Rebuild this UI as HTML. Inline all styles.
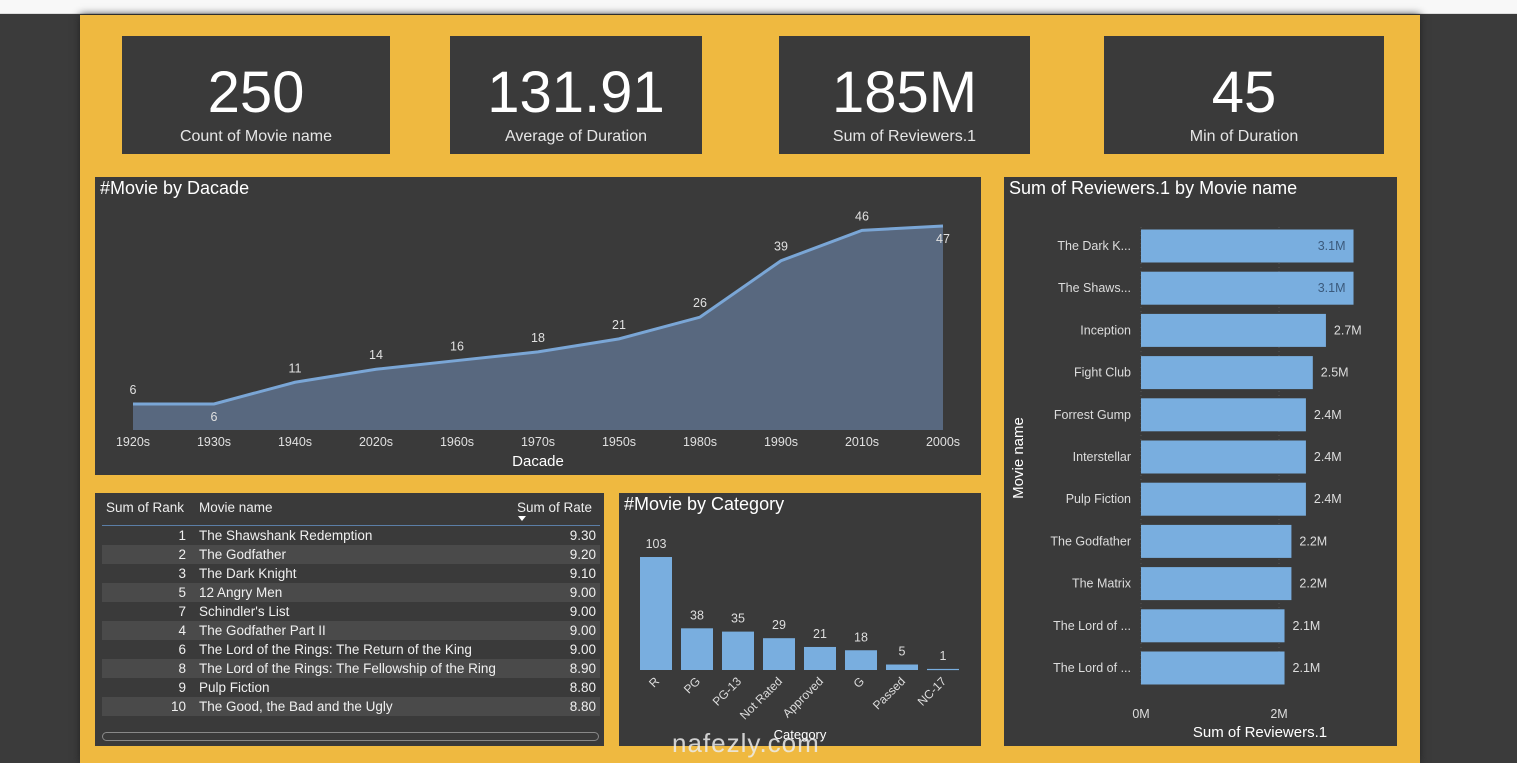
<!DOCTYPE html>
<html><head><meta charset="utf-8">
<style>
*{margin:0;padding:0;box-sizing:border-box}
body{width:1517px;height:763px;overflow:hidden;background:#3b3b3b;font-family:"Liberation Sans","Noto Sans CJK SC",sans-serif;position:relative}
.abs{position:absolute}
.card{position:absolute;background:#3a3a3a;color:#fff;text-align:center}
.card .v{font-size:58px;line-height:58px;margin-top:28px}
.card .l{font-size:16px;color:#e6e6e6;margin-top:6px}
.panel{position:absolute;background:#3a3a3a}
.title{position:absolute;left:5px;top:1px;color:#fff;font-size:18px}
svg text{font-family:"Liberation Sans",sans-serif}
.row{position:absolute;left:7px;width:498px;height:19px;font-size:13.5px;color:#f0f0f0;line-height:19px}
.row.alt{background:#4a4a4a}
</style></head><body>
<div class="abs" style="left:0;top:0;width:1517px;height:14px;background:#f8f8f8;border-bottom:1px solid #ddd"></div>
<div class="abs" style="left:80px;top:15px;width:1340px;height:748px;background:#efb940;box-shadow:0 0 8px #222"></div>

<div class="card" style="left:122px;top:36px;width:268px;height:118px"><div class="v">250</div><div class="l">Count of Movie name</div></div>
<div class="card" style="left:450px;top:36px;width:252px;height:118px"><div class="v">131.91</div><div class="l">Average of Duration</div></div>
<div class="card" style="left:779px;top:36px;width:251px;height:118px"><div class="v">185M</div><div class="l">Sum of Reviewers.1</div></div>
<div class="card" style="left:1104px;top:36px;width:280px;height:118px"><div class="v">45</div><div class="l">Min of Duration</div></div>

<div class="panel" style="left:95px;top:177px;width:886px;height:298px">
<div class="title">#Movie by Dacade</div>
<svg id="area" width="886" height="298" style="position:absolute;left:0;top:0"></svg>
</div>

<div class="panel" style="left:1004px;top:177px;width:393px;height:569px">
<div class="title">Sum of Reviewers.1 by Movie name</div>
<svg id="hbar" width="393" height="569" style="position:absolute;left:0;top:0"></svg>
</div>

<div class="panel" style="left:95px;top:493px;width:509px;height:253px">
<div class="abs" style="left:11px;top:7px;font-size:13.5px;color:#eee">Sum of Rank</div>
<div class="abs" style="left:104px;top:7px;font-size:13.5px;color:#eee">Movie name</div>
<div class="abs" style="left:422px;top:7px;font-size:13.5px;color:#eee">Sum of Rate</div>
<div class="abs" style="left:423px;top:23px;width:0;height:0;border-left:4px solid transparent;border-right:4px solid transparent;border-top:5px solid #fff"></div>
<div class="abs" style="left:7px;top:32px;width:498px;height:1px;background:#5b7ea6"></div>
<div id="rows"></div>
<div class="abs" style="left:7px;top:239px;width:497px;height:9px;border:1px solid #888;border-radius:5px"></div>
</div>

<div class="panel" style="left:619px;top:493px;width:362px;height:253px">
<div class="title">#Movie by Category</div>
<svg id="cat" width="362" height="253" style="position:absolute;left:0;top:0"></svg>
</div>

<div class="abs" style="left:672px;top:728px;font-size:26px;color:rgba(235,235,235,0.85);letter-spacing:1px">nafezly.com</div>

<script>
const NS="http://www.w3.org/2000/svg";
function mk(svg,tag,attrs,text){const e=document.createElementNS(NS,tag);for(const k in attrs)e.setAttribute(k,attrs[k]);if(text!==undefined)e.textContent=text;svg.appendChild(e);return e;}

// Area chart data
const decades=["1920s","1930s","1940s","2020s","1960s","1970s","1950s","1980s","1990s","2010s","2000s"];
const decadeCounts=[6,6,11,14,16,18,21,26,39,46,47];
(function(){
 const svg=document.getElementById('area');
 const x=i=>38+i*81, y=v=>253-v*4.34;
 let d="M"+x(0)+","+y(decadeCounts[0]);
 decadeCounts.forEach((v,i)=>{if(i)d+=" L"+x(i)+","+y(v);});
 const area=mk(svg,'path',{d:d+" L"+x(decadeCounts.length-1)+",253 L"+x(0)+",253 Z",fill:"#58687f"});
 
 
 const line=mk(svg,'path',{d:d,fill:"none",stroke:"#7aa6d6","stroke-width":3});
 
 
 decades.forEach((c,i)=>{
  const t=mk(svg,'text',{x:x(i),y:269,fill:"#e0e0e0","font-size":12.5,"text-anchor":"middle"},c);
  
  
  const v=decadeCounts[i];
  const below=(i===1||i===decadeCounts.length-1);
  const lb=mk(svg,'text',{x:x(i),y:below?y(v)+17:y(v)-10,fill:"#e0e0e0","font-size":12.5,"text-anchor":"middle"},v);
  
  
 });
 const xt=mk(svg,'text',{x:443,y:289,fill:"#fff","font-size":15,"text-anchor":"middle"},"Dacade");
 
 
})();

// Horizontal bar chart data
const movies=["The Dark K...","The Shaws...","Inception","Fight Club","Forrest Gump","Interstellar","Pulp Fiction","The Godfather","The Matrix","The Lord of ...","The Lord of ..."];
const reviewers=[3.08,3.08,2.68,2.49,2.39,2.39,2.39,2.18,2.18,2.08,2.08];
const reviewerLabels=["3.1M","3.1M","2.7M","2.5M","2.4M","2.4M","2.4M","2.2M","2.2M","2.1M","2.1M"];
const xTicks=[0,2];
(function(){
 const svg=document.getElementById('hbar');
 const x=v=>137+v*69, yc=i=>69+i*42.2;
 xTicks.forEach(t=>{
  mk(svg,'line',{x1:x(t),x2:x(t),y1:50,y2:510,stroke:"#555","stroke-dasharray":"1,3"});
  const tt=mk(svg,'text',{x:x(t),y:541,fill:"#ddd","font-size":12.5,"text-anchor":"middle"},t+"M");
  
  
 });
 movies.forEach((m,i)=>{
  const r=mk(svg,'rect',{x:x(0),y:yc(i)-16.5,width:x(reviewers[i])-x(0),height:33,fill:"#79aedf"});
  
  
  const l=mk(svg,'text',{x:127,y:yc(i)+4,fill:"#ddd","font-size":12.5,"text-anchor":"end"},m);
  
  
  const inside=reviewers[i]>=3;
  const v=mk(svg,'text',{x:inside?x(reviewers[i])-8:x(reviewers[i])+8,y:yc(i)+4,fill:inside?"#3b5a7c":"#ddd","font-size":12.5,"text-anchor":inside?"end":"start"},reviewerLabels[i]);
  
  
 });
 const xt=mk(svg,'text',{x:256,y:560,fill:"#fff","font-size":15,"text-anchor":"middle"},"Sum of Reviewers.1");
 
 
 const yt=mk(svg,'text',{x:19,y:281,fill:"#fff","font-size":15,"text-anchor":"middle",transform:"rotate(-90 19 281)"},"Movie name");
 
 
})();

// Table data
const ranks=[1,2,3,5,7,4,6,8,9,10];
const names=["The Shawshank Redemption","The Godfather","The Dark Knight","12 Angry Men","Schindler's List","The Godfather Part II","The Lord of the Rings: The Return of the King","The Lord of the Rings: The Fellowship of the Ring","Pulp Fiction","The Good, the Bad and the Ugly"];
const rates=["9.30","9.20","9.10","9.00","9.00","9.00","9.00","8.90","8.80","8.80"];
(function(){
 const c=document.getElementById('rows');
 ranks.forEach((r,i)=>{
  const d=document.createElement('div');
  d.className='row'+(i%2?' alt':'');
  d.style.top=(33+i*19)+'px';
  
  
  d.innerHTML='<span style="position:absolute;right:414px">'+r+'</span><span style="position:absolute;left:97px">'+names[i]+'</span><span style="position:absolute;right:4px">'+rates[i]+'</span>';
  c.appendChild(d);
 });
})();

// Category chart data
const categories=["R","PG","PG-13","Not Rated","Approved","G","Passed","NC-17"];
const catCounts=[103,38,35,29,21,18,5,1];
(function(){
 const svg=document.getElementById('cat');
 const x=i=>37+i*41, base=177, h=v=>v*1.097;
 categories.forEach((c,i)=>{
  const r=mk(svg,'rect',{x:x(i)-16,y:base-h(catCounts[i]),width:32,height:Math.max(h(catCounts[i]),1.2),fill:"#79aedf"});
  
  
  const v=mk(svg,'text',{x:x(i),y:base-h(catCounts[i])-9,fill:"#ddd","font-size":12.5,"text-anchor":"middle"},catCounts[i]);
  
  
  const t=mk(svg,'text',{x:x(i)+4,y:base+12,fill:"#ddd","font-size":12,"text-anchor":"end",transform:"rotate(-45 "+(x(i)+4)+" "+(base+12)+")"},c);
  
  
 });
 const xt=mk(svg,'text',{x:181,y:246,fill:"#fff","font-size":13,"text-anchor":"middle"},"Category");
 
 
})();
</script>
</body></html>
